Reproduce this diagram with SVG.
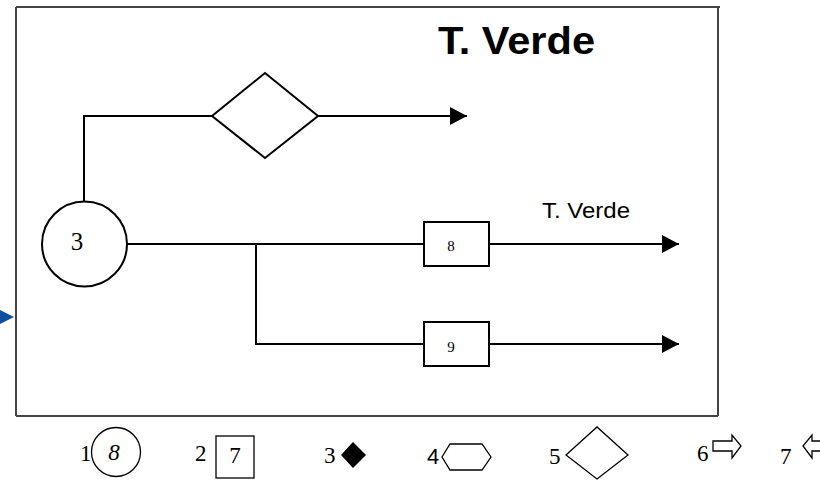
<svg xmlns="http://www.w3.org/2000/svg" width="820" height="480" viewBox="0 0 820 480">
<defs>
<style>
.ln{fill:none;stroke:#000;stroke-width:2}
.sh{fill:#fff;stroke:#000;stroke-width:2}
.lg{fill:#fff;stroke:#000;stroke-width:1.3}
.frame{fill:none;stroke:#444;stroke-width:2}
.serif{font-family:"Liberation Serif","Times New Roman",serif;fill:#000}
.sans{font-family:"Liberation Sans",Arial,sans-serif;fill:#000}
</style>
<marker id="ah" viewBox="0 0 17 18" refX="17" refY="9" markerWidth="17" markerHeight="18" markerUnits="userSpaceOnUse" orient="auto">
<path d="M0,0 L17,9 L0,18 Z" fill="#000"/>
</marker>
</defs>
<rect width="820" height="480" fill="#fff"/>
<g id="frame">
<path class="frame" d="M16,7 H720 M718,7 V416 M16,7 V416 M16,416 H718"/>
</g>
<path id="inlet" d="M0,310 L14,317 L0,324 Z" fill="#0b4f9e"/>
<text id="title" class="sans" x="438" y="54" font-size="39" font-weight="bold" textLength="157" lengthAdjust="spacingAndGlyphs">T. Verde</text>
<g id="connectors">
<path class="ln" d="M84,201 V116 H212"/>
<path class="ln" d="M318,116 H467" marker-end="url(#ah)"/>
<path class="ln" d="M127,244 H424"/>
<path class="ln" d="M489,244 H679" marker-end="url(#ah)"/>
<path class="ln" d="M256,244 V344 H424"/>
<path class="ln" d="M489,344 H679" marker-end="url(#ah)"/>
<text class="sans" x="542" y="218" font-size="22" textLength="88" lengthAdjust="spacingAndGlyphs">T. Verde</text>
</g>
<g id="node3">
<circle class="sh" cx="84.5" cy="244" r="42.5"/>
<text class="serif" x="77" y="250" font-size="25" text-anchor="middle">3</text>
</g>
<g id="diamond">
<path class="sh" d="M212,116 L265,73 L318,116 L265,158 Z"/>
</g>
<g id="box8">
<rect class="sh" x="424" y="222" width="65" height="44"/>
<text class="serif" x="451" y="251" font-size="15" text-anchor="middle">8</text>
</g>
<g id="box9">
<rect class="sh" x="424" y="322" width="65" height="44"/>
<text class="serif" x="451" y="352" font-size="15" text-anchor="middle">9</text>
</g>
<g id="legend">
<g id="leg1">
<text class="serif" x="80" y="461" font-size="23">1</text>
<circle class="lg" cx="116" cy="452" r="24.5"/>
<text class="serif" x="114" y="460" font-size="23" font-style="italic" text-anchor="middle">8</text>
</g>
<g id="leg2">
<text class="serif" x="195" y="461" font-size="23">2</text>
<rect class="lg" x="216" y="436" width="38" height="42"/>
<text class="serif" x="235" y="463" font-size="23" text-anchor="middle">7</text>
</g>
<g id="leg3">
<text class="serif" x="324" y="463" font-size="23">3</text>
<path d="M341,455 L353,442 L366,455 L353,468 Z" fill="#000"/>
</g>
<g id="leg4">
<text class="sans" x="427" y="464" font-size="22">4</text>
<path class="lg" d="M442,457 L450,444 L482,444 L491,457 L482,470 L450,470 Z"/>
</g>
<g id="leg5">
<text class="serif" x="549" y="464" font-size="23">5</text>
<path class="lg" d="M566,455 L597,427 L628,455 L597,479 Z"/>
</g>
<g id="leg6">
<text class="serif" x="697" y="461" font-size="23">6</text>
<path class="lg" d="M713,441 H732 V435 L741,446 L732,458 V451 H713 Z"/>
</g>
<g id="leg7">
<text class="serif" x="780" y="464" font-size="23">7</text>
<path class="lg" d="M822,441 H812 V435 L803,446 L812,458 V451 H822"/>
</g>
</g>
</svg>
